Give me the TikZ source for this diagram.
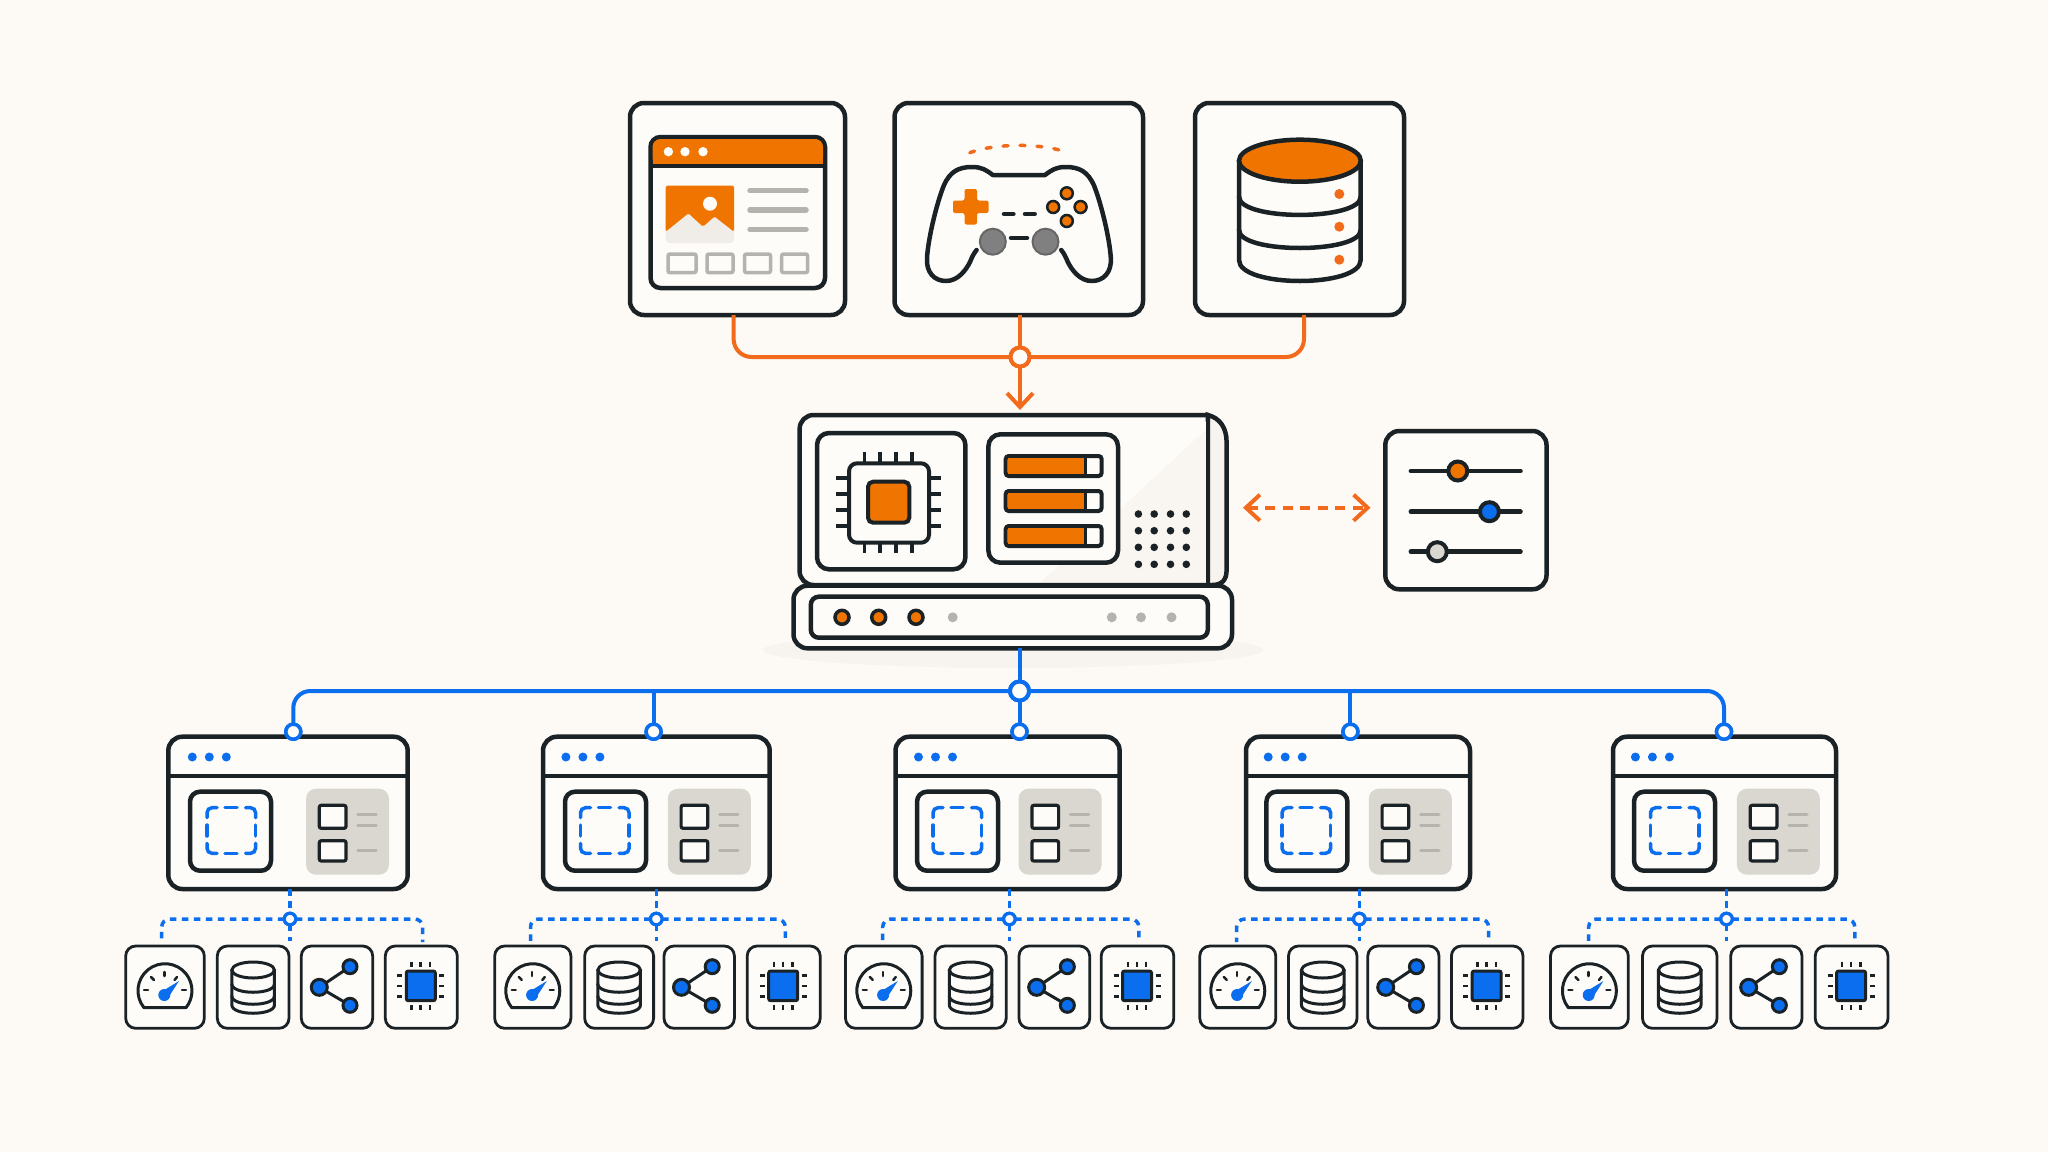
\documentclass[tikz,border=0pt]{standalone}
\usetikzlibrary{arrows.meta,calc}
\definecolor{paper}{HTML}{FDFAF6}
\definecolor{card}{HTML}{FEFCF9}
\definecolor{ink}{HTML}{1A2226}
\definecolor{amber}{HTML}{F07400}
\definecolor{wire}{HTML}{F26A1B}
\definecolor{azure}{HTML}{0B6EEF}
\definecolor{stone}{HTML}{B5B3AE}
\definecolor{sand}{HTML}{DAD6D0}
\definecolor{haze}{HTML}{F7F3EE}
\tikzset{
  panel/.style={draw=ink,fill=card,line width=4.5pt,rounded corners=14pt,inner sep=0pt,outer sep=0pt},
  subpanel/.style={panel,rounded corners=12pt},
  tilebox/.style={draw=ink,fill=card,line width=2.8pt,rounded corners=10pt,inner sep=0pt,outer sep=0pt},
  hubring/.style={circle,draw=#1,fill=card,line width=4pt,minimum size=19pt,inner sep=0pt,outer sep=0pt},
  midring/.style={circle,draw=azure,fill=card,line width=3.5pt,minimum size=15pt,inner sep=0pt,outer sep=0pt},
  smallring/.style={circle,draw=azure,fill=card,line width=3.2pt,minimum size=11.5pt,inner sep=0pt,outer sep=0pt},
  orangewire/.style={draw=wire,line width=4pt},
  bluewire/.style={draw=azure,line width=4pt},
  dashwire/.style={draw=azure,line width=3.5pt,dash pattern=on 6.5pt off 5.5pt},
  ink3/.style={draw=ink,line width=3pt,line cap=round},
  ink4/.style={draw=ink,line width=4.5pt,line cap=round},
  greyrule/.style={draw=stone,line width=5.5pt,line cap=round},
  barb/.tip={Straight Barb[length=14pt,width=26pt]},
}
% A box given by its left, top, right and bottom edges
\newcommand\boxnode[6]{%
  \pgfmathsetmacro\bxc{(#3+#5)/2}\pgfmathsetmacro\byc{(#4+#6)/2}%
  \pgfmathsetmacro\bxw{#5-#3}\pgfmathsetmacro\byh{#6-#4}%
  \node[#2,minimum width=\bxw pt,minimum height=\byh pt] (#1) at (\bxc,\byc) {};}
% Small tile icons, placed by the centre of their tile
\newcommand\gaugeicon[1]{%
  \draw[ink3,line join=round] (#1-21,1007.7) arc[start angle=219,end angle=-39,radius=27pt] -- cycle;
  \foreach \ax/\ay/\bx/\by in {-21/990/-17/990,-14/977/-11/980,-0.7/972/-0.7/976,12/977/9.5/980,21/990/17/990}
    \draw[ink,line width=2.5pt,line cap=round] (#1+\ax,\ay) -- (#1+\bx,\by);
  \fill[azure] (#1+14,981) -- (#1+3,998) -- (#1-4,992) -- cycle;
  \fill[azure] (#1-0.7,995) circle (6);}
\newcommand\dbicon[1]{%
  \draw[ink3] (#1-21.3,970) -- (#1-21.3,1005) .. controls (#1-21.3,1016) and (#1+21.3,1016) .. (#1+21.3,1005) -- (#1+21.3,970);
  \draw[ink3] (#1,970) ellipse (21.3 and 8);
  \draw[ink3] (#1-21.3,984) .. controls (#1-21.3,995) and (#1+21.3,995) .. (#1+21.3,984);
  \draw[ink3] (#1-21.3,996) .. controls (#1-21.3,1007) and (#1+21.3,1007) .. (#1+21.3,996);}
\newcommand\shareicon[1]{%
  \draw[ink3] (#1-17.7,987.3) -- (#1+13,966.7) (#1-17.7,987.3) -- (#1+13,1005.3);
  \draw[draw=ink,fill=azure,line width=3pt] (#1-17.7,987.3) circle (8);
  \draw[draw=ink,fill=azure,line width=3pt] (#1+13,966.7) circle (7);
  \draw[draw=ink,fill=azure,line width=3pt] (#1+13,1005.3) circle (7);}
\newcommand\chipicon[1]{%
  \foreach \p in {-9.7,-0.7,8.7} {
    \draw[ink,line width=2.5pt] (#1+\p,961.7) -- (#1+\p,966.7);
    \draw[ink,line width=2.5pt] (#1+\p,1005) -- (#1+\p,1010);}
  \foreach \p in {975.7,986,996.7} {
    \draw[ink,line width=2.5pt] (#1-24,\p) -- (#1-19,\p);
    \draw[ink,line width=2.5pt] (#1+18,\p) -- (#1+23,\p);}
  \draw[draw=ink,fill=azure,line width=3pt,rounded corners=2pt] (#1-15,971) rectangle (#1+14,1000.7);}
\begin{document}
\begin{tikzpicture}[x=1pt,y=-1pt]
\useasboundingbox (0,0) rectangle (2048,1152);
\fill[paper] (0,0) rectangle (2048,1152);

% Soft ground under the server
\fill[haze] (1013,650) ellipse (250 and 18);

% Application cards
\boxnode{appweb}{panel}{630}{103}{845}{315}
\boxnode{appgame}{panel}{894.5}{103}{1143}{315}
\boxnode{appdata}{panel}{1195}{103}{1404}{315}

% Server body
\node[minimum width=427pt,minimum height=170pt,inner sep=0pt,outer sep=0pt] (case) at (1013.1,500) {};
\draw[ink4,fill=haze] (1207.8,415) .. controls (1220,418) and (1226.6,428) .. (1226.6,442) -- (1226.6,570) .. controls (1226.6,580) and (1222,585) .. (1212,585) -- (1207.8,585) -- cycle;
\fill[card,rounded corners=14pt] (1207.8,585) -- (799.6,585) -- (799.6,415) -- (1207.8,415) -- (1207.8,585);
\fill[haze!70!card] (1207.8,428) -- (1040,583) -- (1207.8,583) -- cycle;
\draw[ink4,rounded corners=14pt] (1207.8,585) -- (799.6,585) -- (799.6,415) -- (1207.8,415);
\draw[ink4] (1207.8,415) -- (1207.8,585);

% Processor panel
\boxnode{cpupanel}{subpanel}{817}{433}{965.4}{569.3}
\foreach \p in {864.4,880.2,896,911.8} {
  \draw[ink,line width=3.5pt] (\p,451.7) -- (\p,463.3);
  \draw[ink,line width=3.5pt] (\p,542.7) -- (\p,553.3);}
\foreach \p in {478,494,510,526} {
  \draw[ink,line width=3.5pt] (836.3,\p) -- (849,\p);
  \draw[ink,line width=3.5pt] (929,\p) -- (941,\p);}
\draw[draw=ink,fill=card,line width=4pt,rounded corners=8pt] (849,463.3) rectangle (929,542.7);
\draw[draw=ink,fill=amber,line width=4pt,rounded corners=5pt] (868,481.7) rectangle (909.3,522.7);

% Storage panel
\boxnode{diskpanel}{subpanel}{988.4}{434.3}{1118}{562.7}
\foreach \t in {456,491,526} {
  \draw[draw=ink,fill=card,line width=4pt,rounded corners=3pt] (1005.7,\t) rectangle (1101.6,\t+20);
  \fill[amber] (1007.5,\t+1.8) rectangle (1085,\t+18.2);
  \draw[ink,line width=3pt] (1085.5,\t) -- (1085.5,\t+20);}

% Speaker grille
\foreach \sx in {1138.4,1154.2,1170.5,1186.3}
  \foreach \sy in {514,530.7,547.3,564.3}
    \fill[ink] (\sx,\sy) circle (3.8);

% Server base with its indicators
\boxnode{base}{panel}{793.5}{585.7}{1232}{648.3}
\draw[draw=ink,fill=card,line width=4.5pt,rounded corners=8pt] (810.8,596.7) rectangle (1207.8,637.7);
\foreach \lx in {842,878.7,916}
  \draw[draw=ink,fill=amber,line width=3.5pt] (\lx,617.3) circle (7);
\foreach \lx in {952.7,1111.8,1141,1171.5}
  \fill[stone] (\lx,617.3) circle (5);

% Settings card
\boxnode{sliders}{panel}{1385.3}{431}{1546.5}{589.3}
\foreach \ly in {471,511.7,551.7}
  \draw[ink,line width=4.5pt,line cap=round] (1410.8,\ly) -- (1520.5,\ly);
\draw[draw=ink,fill=amber,line width=4pt] (1457.8,471) circle (9.5);
\draw[draw=ink,fill=azure,line width=4pt] (1489.4,511.7) circle (9.5);
\draw[draw=ink,fill=sand,line width=4pt] (1437.3,551.7) circle (9.5);

% Browser window icon
\draw[draw=ink,fill=card,line width=4.5pt,rounded corners=10pt] (650.5,137) rectangle (825,288);
\fill[amber,rounded corners=8pt] (652.5,139) -- (823,139) -- (823,166) -- (652.5,166) -- cycle;
\fill[amber] (652.5,150) rectangle (823,166);
\draw[ink,line width=4.5pt] (650.5,166) -- (825,166);
\foreach \dx in {668.4,685,703}
  \fill[card] (\dx,151.7) circle (4.7);
\fill[haze!75!sand,rounded corners=4pt] (665.7,215) rectangle (734,243);
\fill[amber,rounded corners=1.5pt] (665.7,231.7) -- (665.7,185.7) -- (734,185.7) -- (734,231.7) -- (714.5,216.5) -- (703,226.7) -- (688.4,213.3) -- cycle;
\fill[card] (710,203.7) circle (7);
\foreach \ly in {190.7,210,229.3}
  \draw[greyrule] (750,\ly) -- (806,\ly);
\foreach \ax/\bx in {668/696,707/733,744.5/770.5,781.6/807.6}
  \draw[draw=stone,line width=3.5pt,rounded corners=2pt] (\ax,254) rectangle (\bx,272.7);

% Game controller icon
\draw[wire,line width=3.5pt,line cap=round,dash pattern=on 5pt off 12pt] (969.8,152.7) .. controls (995,143) and (1043,143) .. (1067.8,152.7);
\draw[ink4,line join=round]
  (976.6,250) .. controls (974,253) and (972,257) .. (970,262)
  .. controls (966,270) and (958,281) .. (946,281)
  .. controls (934,281) and (926,272) .. (927,258)
  .. controls (928,240) and (936,205) .. (944,185)
  .. controls (950,172) and (958,167) .. (972,167)
  .. controls (982,167) and (986,170) .. (992.8,175)
  -- (1045,175)
  .. controls (1051.8,170) and (1055.8,167) .. (1065.8,167)
  .. controls (1079.8,167) and (1087.8,172) .. (1093.8,185)
  .. controls (1101.8,205) and (1109.8,240) .. (1110.8,258)
  .. controls (1111.8,272) and (1103.8,281) .. (1091.8,281)
  .. controls (1079.8,281) and (1071.8,270) .. (1067.8,262)
  .. controls (1065.8,257) and (1063.8,253) .. (1061.2,250);
\fill[amber,rounded corners=2pt] (964.5,189) -- (977,189) -- (977,200.5) -- (988.5,200.5) -- (988.5,213) -- (977,213) -- (977,224.5) -- (964.5,224.5) -- (964.5,213) -- (953,213) -- (953,200.5) -- (964.5,200.5) -- cycle;
\foreach \bx/\by in {1066.8/193.3,1053.2/207,1080.6/207,1066.8/221}
  \draw[draw=ink,fill=amber,line width=2.5pt] (\bx,\by) circle (6);
\draw[ink4] (1004,214) -- (1013.4,214) (1025,214) -- (1034.7,214);
\draw[ink4] (1011,238) -- (1027,238);
\foreach \bx in {992.8,1045.5}
  \draw[draw=black!60,fill=black!50,line width=2pt] (\bx,241.7) circle (13);

% Database icon
\draw[ink4,fill=card] (1239,160.7) -- (1239,260) .. controls (1239,288) and (1360.7,288) .. (1360.7,260) -- (1360.7,160.7);
\draw[ink4] (1239,196.7) .. controls (1239,221) and (1360.7,221) .. (1360.7,196.7);
\draw[ink4] (1239,230) .. controls (1239,254) and (1360.7,254) .. (1360.7,230);
\draw[draw=ink,fill=amber,line width=4.5pt] (1299.9,160.7) ellipse (60.9 and 21);
\foreach \dy in {194,226.7,259.7}
  \fill[wire] (1339.3,\dy) circle (5);

% Tiles under each device
\foreach \tn/\tl/\tr/\ti in {
  a1/125.7/204.3/\gaugeicon, a2/217.3/289/\dbicon, a3/301.3/372.7/\shareicon, a4/385.3/457.3/\chipicon,
  b1/494.7/570.9/\gaugeicon, b2/584.7/653.6/\dbicon, b3/664/734.4/\shareicon, b4/747.2/820.2/\chipicon,
  c1/845.5/922.1/\gaugeicon, c2/935/1006.2/\dbicon, c3/1019/1089.7/\shareicon, c4/1101.2/1173.8/\chipicon,
  d1/1199.8/1275.8/\gaugeicon, d2/1288.5/1357/\dbicon, d3/1367.8/1439/\shareicon, d4/1451.4/1523/\chipicon,
  e1/1550.5/1628.3/\gaugeicon, e2/1642.5/1717/\dbicon, e3/1730.7/1802/\shareicon, e4/1815.2/1888/\chipicon} {
  \boxnode{tile\tn}{tilebox}{\tl}{946}{\tr}{1028.3}
  \pgfmathsetmacro\tc{(\tl+\tr)/2}
  \ti{\tc}
}

% Device windows with their contents
\foreach \u/\wl/\wr/\jx/\dd/\fl/\pl/\ds/\sx/\lo/\ro in {
  a/168.3/407.7/293.3/192.3/190/306/207/290/-3.3/1.4,
  b/543/769.7/653.6/565.9/565/667.8/580.5/656.3/-2.3/1.6,
  c/895.5/1119.6/1019.5/918.5/917/1018.6/933/1009.4/-1.1/1.4,
  d/1246/1470/1350.4/1268.2/1266.4/1368.8/1282/1359.3/-1.2/1.4,
  e/1613/1836/1724/1635.4/1634/1736.9/1650.5/1726.5/-0.7/3.2} {
  \boxnode{win\u}{panel}{\wl}{736.7}{\wr}{889}
  \draw[ink,line width=4pt] (\wl,775.7) -- (\wr,775.7);
  \foreach \k in {0,17,34}
    \fill[azure] (\dd+\k,757) circle (4.5);
  % framed region with its dashed outline
  \draw[draw=ink,line width=4.5pt,rounded corners=10pt] (\fl,791.7) rectangle (\fl+81,870.7);
  \pgfmathsetmacro\dl{\ds}\pgfmathsetmacro\dr{\ds+48.6}
  \foreach \sa/\sb/\ca/\cb/\ea/\eb in {
    \dl/817.7/\dl/807.7/\dl+10/807.7,
    \dr-10/807.7/\dr/807.7/\dr/817.7,
    \dr/843.3/\dr/853.3/\dr-10/853.3,
    \dl+10/853.3/\dl/853.3/\dl/843.3}
    \draw[azure,line width=3.5pt,line cap=round,rounded corners=5pt] (\sa,\sb) -- (\ca,\cb) -- (\ea,\eb);
  \draw[azure,line width=3.5pt,line cap=round]
    (\dl+18,807.7) -- (\dl+30,807.7) (\dl+18,853.3) -- (\dl+30,853.3)
    (\dl,825) -- (\dl,836) (\dr,825) -- (\dr,836);
  % grey side panel
  \fill[sand,rounded corners=10pt] (\pl,788.7) rectangle (\pl+83,874.7);
  \draw[draw=ink,fill=card,line width=3.2pt,rounded corners=2pt] (\pl+13.3,805.3) rectangle (\pl+40,828.3);
  \draw[draw=ink,fill=card,line width=3.2pt,rounded corners=2pt] (\pl+13.3,840.7) rectangle (\pl+40,861);
  \foreach \ry in {814.3,825.7,850.7}
    \draw[draw=stone,line width=3.5pt,line cap=round] (\pl+52,\ry) -- (\pl+70,\ry);
  % dashed links down to the tiles
  \node[smallring] (sub\u) at (\sx,919) {};
  \coordinate (subend\u) at (\sx,941);
  \draw[dashwire] (win\u.south -| sub\u) -- (sub\u);
  \draw[dashwire] (sub\u) -- (subend\u);
  \draw[dashwire,rounded corners=8pt] (sub\u.west) -| ([xshift=\lo pt,yshift=4pt]tile\u1.north);
  \draw[dashwire,rounded corners=8pt] (sub\u.east) -| ([xshift=\ro pt,yshift=4pt]tile\u4.north);
  \node[smallring] at (sub\u) {};
  \node[midring] (joint\u) at (\jx,731.7) {};
}

% Feeds into the server
\node[hubring=wire] (ohub) at (1020,357) {};
\draw[orangewire,rounded corners=18pt] ([xshift=-3.9pt]appweb.south) |- (ohub.west);
\draw[orangewire,rounded corners=18pt] ([xshift=4.5pt]appdata.south) |- (ohub.east);
\draw[orangewire] (appgame.south -| ohub) -- (ohub.north);
\draw[orangewire,-{barb},line cap=round] (ohub.south) -- ([yshift=5pt]ohub |- case.north);
\node[hubring=wire] at (ohub) {};

% Two-way link between server and settings
\draw[orangewire,dash pattern=on 10pt off 7.5pt,{barb}-{barb},shorten <=16.4pt,shorten >=14.8pt]
  ([yshift=-7.7pt]case.east) -- ([yshift=-7.7pt]case.east -| sliders.west);

% Distribution bus to the device windows
\node[hubring=azure] (bhub) at (1019.5,691) {};
\draw[bluewire] (bhub |- base.south) -- (bhub.north);
\draw[bluewire,rounded corners=17pt] (jointa.north) |- (bhub.west);
\draw[bluewire,rounded corners=17pt] (jointe.north) |- (bhub.east);
\draw[bluewire] (bhub -| jointb) -- (jointb.north);
\draw[bluewire] (bhub.south) -- (jointc.north);
\draw[bluewire] (bhub -| jointd) -- (jointd.north);
\node[hubring=azure] at (bhub) {};
\foreach \u in {a,b,c,d,e}
  \node[midring] at (joint\u) {};
\end{tikzpicture}
\end{document}
